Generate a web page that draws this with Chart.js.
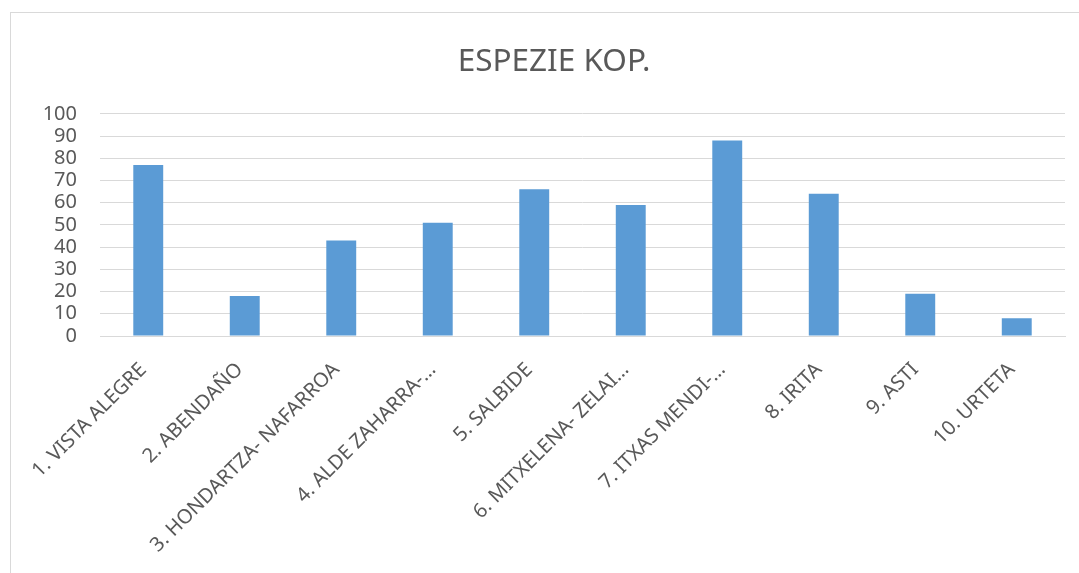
<!DOCTYPE html>
<html>
<head>
<meta charset="utf-8">
<script src="https://cdn.jsdelivr.net/npm/chart.js@4.4.0/dist/chart.umd.min.js"></script>
<style>
  html, body { margin: 0; padding: 0; background: #fff; }
  body { width: 1079px; height: 573px; overflow: hidden; position: relative; }
  .frame { position: absolute; left: 10px; top: 12px; width: 1080px; height: 580px; border: 1px solid #d9d9d9; box-sizing: border-box; }
  .wrap { position: absolute; left: 11px; top: 13px; width: 1068px; height: 560px; }
</style>
</head>
<body>
<div class="frame"></div>
<div class="wrap"><canvas id="chart"></canvas></div>
<script>
// ── DATA ──────────────────────────────────────────────
const categories = [
  '1. VISTA ALEGRE', '2. ABENDAÑO', '3. HONDARTZA- NAFARROA', '4. ALDE ZAHARRA-…',
  '5. SALBIDE', '6. MITXELENA- ZELAI…', '7. ITXAS MENDI-…', '8. IRITA', '9. ASTI', '10. URTETA'
];
const speciesCount = [77, 18, 43, 51, 66, 59, 88, 64, 19, 8];
const yTicks = [0, 10, 20, 30, 40, 50, 60, 70, 80, 90, 100];

const TXT = '#595959';
const FONT = "'Noto Sans', sans-serif";

new Chart(document.getElementById('chart'), {
  type: 'bar',
  data: {
    labels: categories,
    datasets: [{
      data: speciesCount,
      backgroundColor: '#5B9BD5',
      borderColor: '#5B9BD5',
      borderWidth: 0,
      categoryPercentage: 1,
      barPercentage: 0.31,
    }],
  },
  options: {
    responsive: true,
    maintainAspectRatio: false,
    animation: false,
    // left padding pushes the title centre right (matches reference)
    layout: { padding: { left: 32, right: 14, top: 0, bottom: 0 } },
    plugins: {
      legend: { display: false },
      tooltip: { enabled: false },
      title: {
        display: true,
        text: 'ESPEZIE KOP.',
        color: TXT,
        font: { size: 31.5, family: FONT, weight: 'normal' },
        padding: { top: 30, bottom: 33 },
      },
    },
    scales: {
      x: {
        grid: { display: false, drawTicks: false },
        border: { color: '#d9d9d9' },
        ticks: {
          color: TXT, font: { size: 20, family: FONT },
          maxRotation: 45, minRotation: 45, autoSkip: false,
          padding: 22, labelOffset: -5,
        },
        afterFit: s => { s.height = 237; },
      },
      y: {
        min: 0, max: 100,
        afterBuildTicks: s => { s.ticks = yTicks.map(v => ({ value: v })); },
        grid: { color: '#d9d9d9', lineWidth: 1, drawTicks: false },
        border: { display: false },
        ticks: { color: TXT, font: { size: 20, family: FONT }, padding: 23, autoSkip: false },
        afterFit: s => { s.width = 57; },
      },
    },
  },
});
</script>
</body>
</html>
